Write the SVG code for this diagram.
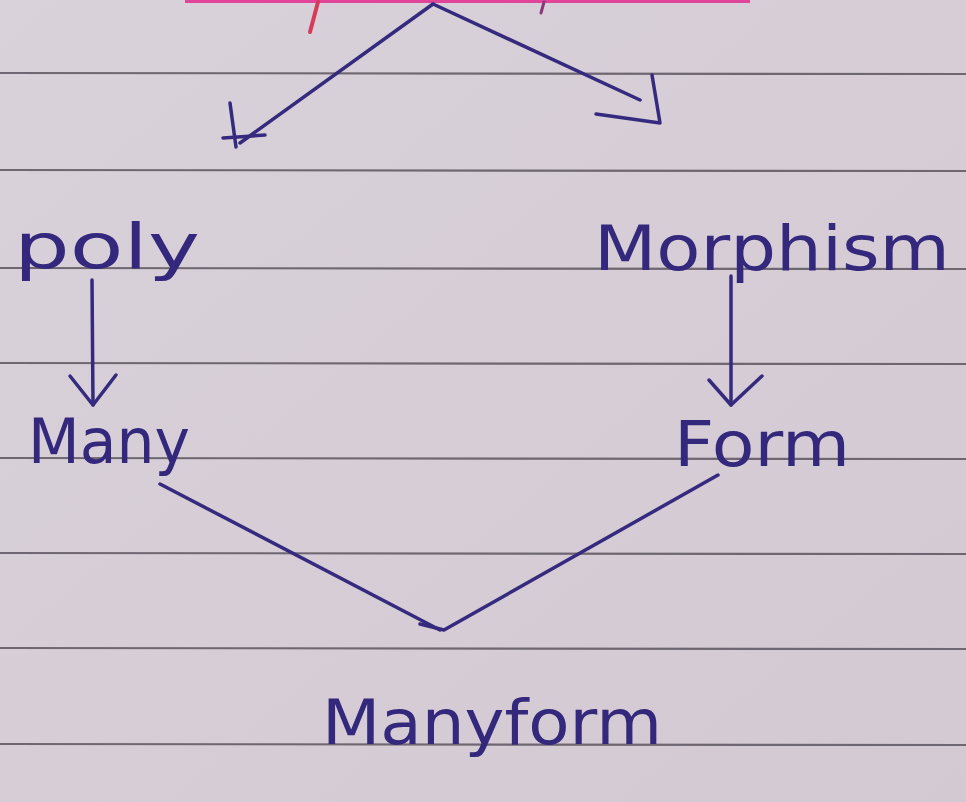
<svg xmlns="http://www.w3.org/2000/svg" width="966" height="802" viewBox="0 0 966 802">
<defs>
<linearGradient id="paper" x1="0" y1="0" x2="1" y2="1">
<stop offset="0" stop-color="#d9d2da"/>
<stop offset="0.5" stop-color="#d6cdd6"/>
<stop offset="1" stop-color="#d3c9d3"/>
</linearGradient>
<style>
.rule{stroke:#6e6670;stroke-width:2.2;fill:none}
.ink{stroke:#352a7e;stroke-width:3.5;fill:none;stroke-linecap:round;stroke-linejoin:round}
.lbl{font-family:"DejaVu Sans","Liberation Sans",sans-serif;fill:#33287c;font-size:62px}
</style>
</defs>
<rect width="966" height="802" fill="url(#paper)"/>
<g id="paper-lines">
<line class="rule" x1="0" y1="73" x2="966" y2="74"/>
<line class="rule" x1="0" y1="170" x2="966" y2="171"/>
<line class="rule" x1="0" y1="268" x2="966" y2="269"/>
<line class="rule" x1="0" y1="363" x2="966" y2="364"/>
<line class="rule" x1="0" y1="458" x2="966" y2="459"/>
<line class="rule" x1="0" y1="553" x2="966" y2="554"/>
<line class="rule" x1="0" y1="648" x2="966" y2="649"/>
<line class="rule" x1="0" y1="744" x2="966" y2="745"/>
</g>
<g id="top-heading-edge">
<line x1="185" y1="1" x2="750" y2="1" stroke="#e0459a" stroke-width="4"/>
<line x1="318" y1="2" x2="310" y2="32" stroke="#d83a5a" stroke-width="4" stroke-linecap="round"/>
<line x1="544" y1="2" x2="541" y2="13" stroke="#8a3a7a" stroke-width="3" stroke-linecap="round"/>
</g>
<g id="connectors">
<path class="ink" d="M433 4 L240 143"/>
<path class="ink" d="M230 103 L236 147"/>
<path class="ink" d="M223 138 L265 135"/>
<path class="ink" d="M433 4 L640 100"/>
<path class="ink" d="M652 75 L660 123 L596 114"/>
<path class="ink" d="M92 280 L93 405"/>
<path class="ink" d="M70 376 L93 405 L116 375"/>
<path class="ink" d="M731 276 L731 405"/>
<path class="ink" d="M709 380 L731 405 L762 376"/>
<path class="ink" d="M160 484 L440 630"/>
<path class="ink" d="M718 475 L444 630 L420 624"/>
</g>
<g id="node-poly"><text class="lbl" x="14" y="268" textLength="186" lengthAdjust="spacingAndGlyphs">poly</text></g>
<g id="node-morphism"><text class="lbl" x="594" y="270" textLength="356" lengthAdjust="spacingAndGlyphs">Morphism</text></g>
<g id="node-many"><text class="lbl" x="28" y="463" textLength="162" lengthAdjust="spacingAndGlyphs">Many</text></g>
<g id="node-form"><text class="lbl" x="674" y="466" textLength="176" lengthAdjust="spacingAndGlyphs">Form</text></g>
<g id="node-manyform"><text class="lbl" x="322" y="744" textLength="340" lengthAdjust="spacingAndGlyphs">Manyform</text></g>
</svg>
